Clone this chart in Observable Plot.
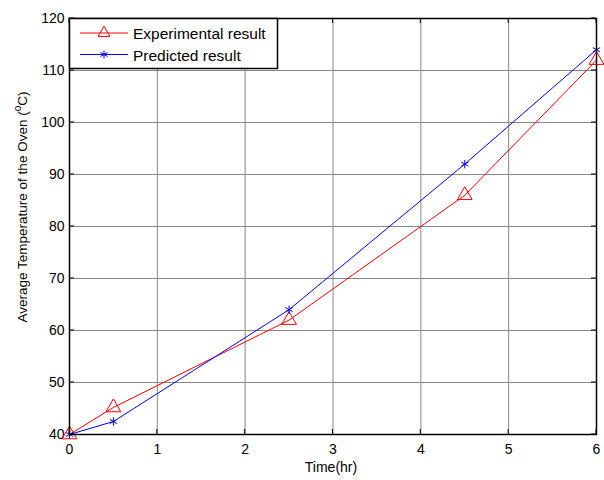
<!DOCTYPE html>
<html>
<head>
<meta charset="utf-8">
<script src="https://cdn.jsdelivr.net/npm/d3@7"></script>
<script src="https://cdn.jsdelivr.net/npm/@observablehq/plot@0.6"></script>
<style>
  body { margin: 0; background: white; }
  svg { font-family: "Liberation Sans", Arial, sans-serif; }
</style>
</head>
<body>
<div id="chart"></div>
<script>
const time = [0, 0.5, 2.5, 4.5, 6];
const experimental = [40, 45.2, 62, 86, 112];
const predicted = [40, 42.5, 64, 92, 114];
const xTicks = [0, 1, 2, 3, 4, 5, 6];
const yTicks = [40, 50, 60, 70, 80, 90, 100, 110, 120];
const seriesNames = ["Experimental result", "Predicted result"];
const seriesColors = ["#ff0000", "#0000ff"];

const expData = time.map((t, i) => ({t, v: experimental[i]}));
const preData = time.map((t, i) => ({t, v: predicted[i]}));

const chart = Plot.plot({
  width: 604,
  height: 480,
  marginLeft: 69,
  marginRight: 8,
  marginTop: 18,
  marginBottom: 46,
  style: {fontFamily: "Liberation Sans, Arial, sans-serif", fontSize: "14px", background: "white", color: "black"},
  x: {domain: [0, 6], ticks: xTicks},
  y: {domain: [40, 120], ticks: yTicks},
  marks: [
    Plot.gridX(xTicks, {stroke: "#888", strokeOpacity: 1, strokeWidth: 1}),
    Plot.gridY(yTicks, {stroke: "#888", strokeOpacity: 1, strokeWidth: 1}),
    Plot.axisX(xTicks, {tickSize: 0, tickPadding: 10, label: null, fontSize: 14}),
    Plot.axisY(yTicks, {tickSize: 0, tickPadding: 5, label: null, fontSize: 14}),
    Plot.line(expData, {x: "t", y: "v", stroke: seriesColors[0], strokeWidth: 1}),
    Plot.line(preData, {x: "t", y: "v", stroke: seriesColors[1], strokeWidth: 1}),
    Plot.dot(expData, {x: "t", y: "v", symbol: "triangle", r: 5.5, stroke: seriesColors[0], fill: "none", strokeWidth: 1}),
    Plot.dot(preData, {x: "t", y: "v", symbol: "asterisk", r: 4, stroke: seriesColors[1], strokeWidth: 1}),
    Plot.frame({stroke: "black", strokeWidth: 1.5})
  ]
});

document.getElementById("chart").appendChild(chart);
const svg = d3.select(chart);
const sx = chart.scale("x"), sy = chart.scale("y");
const [x0, x1] = sx.range, [y0, y1] = sy.range; // y0 bottom, y1 top

// inward tick marks on all four sides
const tk = svg.append("g").attr("stroke", "black").attr("stroke-width", 1);
xTicks.forEach(v => {
  const x = sx.apply(v);
  tk.append("line").attr("x1", x).attr("x2", x).attr("y1", y0).attr("y2", y0 - 5);
  tk.append("line").attr("x1", x).attr("x2", x).attr("y1", y1).attr("y2", y1 + 5);
});
yTicks.forEach(v => {
  const y = sy.apply(v);
  tk.append("line").attr("y1", y).attr("y2", y).attr("x1", x0).attr("x2", x0 + 5);
  tk.append("line").attr("y1", y).attr("y2", y).attr("x1", x1).attr("x2", x1 - 5);
});

// axis titles
svg.append("text")
  .attr("x", 331).attr("y", 472)
  .attr("text-anchor", "middle")
  .attr("font-size", 14)
  .text("Time(hr)");

const yl = svg.append("text")
  .attr("transform", "translate(27,207) rotate(-90)")
  .attr("text-anchor", "middle")
  .attr("font-size", 13.5);
yl.append("tspan").text("Average Temperature of the Oven (");
yl.append("tspan").attr("font-size", 10).attr("dy", -6).text("o");
yl.append("tspan").attr("dy", 6).text("C)");

// legend
const lg = svg.append("g").attr("text-anchor", "start");
lg.append("rect").attr("x", 69.5).attr("y", 18.5).attr("width", 208).attr("height", 50)
  .attr("fill", "white").attr("stroke", "black").attr("stroke-width", 1.5);
const rows = [33, 54.5];
const sym = [d3.symbolTriangle, d3.symbolAsterisk];
seriesNames.forEach((name, i) => {
  lg.append("line").attr("x1", 80).attr("x2", 128).attr("y1", rows[i]).attr("y2", rows[i])
    .attr("stroke", seriesColors[i]).attr("stroke-width", 1);
  lg.append("path").attr("d", d3.symbol(sym[i], i === 0 ? 60 : 45)())
    .attr("transform", `translate(104,${rows[i]})`)
    .attr("fill", "none").attr("stroke", seriesColors[i]).attr("stroke-width", 1);
  lg.append("text").attr("x", 133).attr("y", rows[i] + 6).attr("text-anchor", "start")
    .attr("font-size", 15.5).text(name);
});
</script>
</body>
</html>
